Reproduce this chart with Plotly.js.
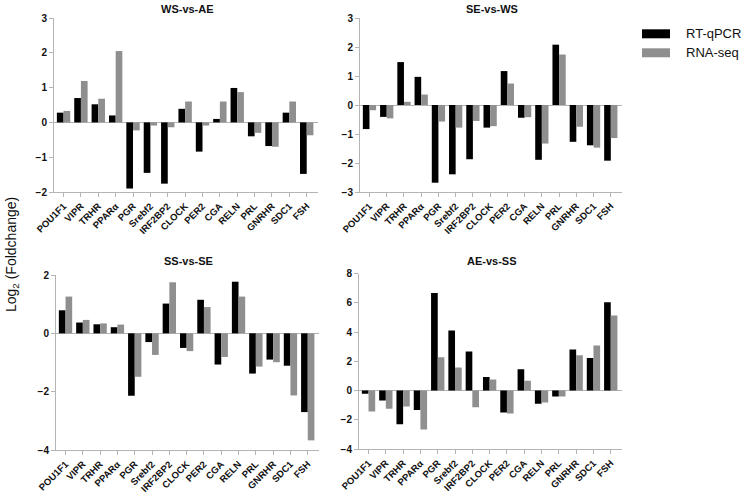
<!DOCTYPE html>
<html>
<head>
<meta charset="utf-8">
<script src="https://cdn.plot.ly/plotly-3.0.1.min.js"></script>
<style>
  html, body { margin: 0; padding: 0; background: #fff; }
  #chart { width: 756px; height: 494px; }
</style>
</head>
<body>
<div id="chart"></div>
<script>
// ---- data ----
const genes = ["POU1F1","VIPR","TRHR","PPARα","PGR","Srebf2","IRF2BP2","CLOCK","PER2","CGA","RELN","PRL","GNRHR","SDC1","FSH"];

const panelTitles = ["WS-vs-AE", "SE-vs-WS", "SS-vs-SE", "AE-vs-SS"];
const seriesNames = ["RT-qPCR", "RNA-seq"];

const wsAE_qpcr  = [0.28, 0.70, 0.52, 0.20, -1.90, -1.45, -1.76, 0.39, -0.84, 0.10, 0.99, -0.40, -0.68, 0.28, -1.48];
const wsAE_rna   = [0.33, 1.19, 0.68, 2.05, -0.23, -0.09, -0.14, 0.60, -0.09, 0.60, 0.87, -0.30, -0.70, 0.60, -0.37];

const seWS_qpcr  = [-0.83, -0.41, 1.48, 0.97, -2.68, -2.39, -1.87, -0.78, 1.17, -0.44, -1.89, 2.08, -1.27, -1.39, -1.92];
const seWS_rna   = [-0.18, -0.46, 0.11, 0.36, -0.57, -0.78, -0.55, -0.73, 0.74, -0.42, -1.33, 1.74, -0.75, -1.47, -1.14];

const ssSE_qpcr  = [0.79, 0.37, 0.31, 0.21, -2.14, -0.30, 1.02, -0.50, 1.15, -1.07, 1.77, -1.38, -0.90, -1.11, -2.70];
const ssSE_rna   = [1.26, 0.46, 0.34, 0.30, -1.49, -0.74, 1.75, -0.61, 0.90, -0.81, 1.26, -1.14, -0.99, -2.13, -3.67];

const aeSS_qpcr  = [-0.23, -0.68, -2.30, -1.34, 6.67, 4.10, 2.67, 0.93, -1.50, 1.46, -0.91, -0.41, 2.80, 2.23, 6.04];
const aeSS_rna   = [-1.43, -1.25, -1.09, -2.67, 2.28, 1.57, -1.14, 0.75, -1.57, 0.66, -0.82, -0.41, 2.41, 3.07, 5.13];

const yRanges = [[-2, 3], [-3, 3], [-4, 2], [-4, 8]];
const yDticks = [1, 1, 2, 2];

// ---- layout helpers ----
const W = 756, H = 494;
const px = v => v / W;
const py = v => 1 - v / H;

// pixel boxes [left, right, top, bottom]
const boxes = [
  [54, 318, 18, 192],
  [360, 622, 18, 192],
  [56, 319, 275, 450],
  [359, 622, 273.5, 449]
];

const black = "#000000";
const grey = "#8f8f8f";
const axisCol = "#b4b4b4";
const fontFam = "Liberation Sans, Arial, sans-serif";

const pairs = [[wsAE_qpcr, wsAE_rna],[seWS_qpcr, seWS_rna],[ssSE_qpcr, ssSE_rna],[aeSS_qpcr, aeSS_rna]];

const traces = [];
pairs.forEach((p, i) => {
  const xa = i === 0 ? "x" : "x" + (i + 1);
  const ya = i === 0 ? "y" : "y" + (i + 1);
  traces.push({
    type: "bar", x: genes, y: p[0], name: seriesNames[0], xaxis: xa, yaxis: ya,
    marker: {color: black, line: {width: 0}}, showlegend: false, hoverinfo: "x+y"
  });
  traces.push({
    type: "bar", x: genes, y: p[1], name: seriesNames[1], xaxis: xa, yaxis: ya,
    marker: {color: grey, line: {width: 0}}, showlegend: false, hoverinfo: "x+y"
  });
});

const layout = {
  width: W, height: H,
  margin: {l: 0, r: 0, t: 0, b: 0},
  paper_bgcolor: "#fff", plot_bgcolor: "rgba(0,0,0,0)",
  barmode: "group", bargap: 0.23, bargroupgap: 0,
  font: {family: fontFam, color: "#000"},
  annotations: [], shapes: []
};

boxes.forEach((b, i) => {
  const sx = i === 0 ? "" : String(i + 1);
  layout["xaxis" + sx] = {
    domain: [px(b[0]), px(b[1])],
    anchor: "y" + sx,
    type: "category",
    range: [-0.55, 14.65],
    showline: true, linecolor: axisCol, linewidth: 1,
    ticks: "outside", ticklen: 4, tickcolor: axisCol, tickwidth: 1,
    tickangle: -45,
    tickfont: {family: fontFam, size: 9.5, weight: 700, color: "#111"},
    showgrid: false, zeroline: false, fixedrange: true
  };
  layout["yaxis" + sx] = {
    domain: [py(b[3]), py(b[2])],
    anchor: "x" + sx,
    range: yRanges[i], dtick: yDticks[i], tick0: 0,
    showline: true, linecolor: axisCol, linewidth: 1,
    ticks: "outside", ticklen: 4, tickcolor: axisCol, tickwidth: 1,
    tickfont: {family: fontFam, size: 10, weight: 700, color: "#111"},
    showgrid: false,
    zeroline: true, zerolinecolor: axisCol, zerolinewidth: 1,
    fixedrange: true
  };
  layout.annotations.push({
    text: "<b>" + panelTitles[i] + "</b>",
    xref: "paper", yref: "paper",
    x: px((b[0] + b[1]) / 2 + 1), y: py(i < 2 ? 9 : 261),
    xanchor: "center", yanchor: "middle", showarrow: false,
    font: {family: fontFam, size: 11, color: "#111"}
  });
});

// y title
layout.annotations.push({
  text: "Log<sub>2</sub> (Foldchange)",
  xref: "paper", yref: "paper", x: px(12), y: py(255),
  xanchor: "center", yanchor: "middle", textangle: -90, showarrow: false,
  font: {family: fontFam, size: 14, color: "#111"}
});

// legend (swatches + labels)
const legendItems = [[seriesNames[0], black, 29.3, 38.3], [seriesNames[1], grey, 48.3, 57.3]];
legendItems.forEach(it => {
  layout.shapes.push({
    type: "rect", xref: "paper", yref: "paper",
    x0: px(642), x1: px(670), y0: py(it[3]), y1: py(it[2]),
    fillcolor: it[1], line: {width: 0}
  });
  layout.annotations.push({
    text: it[0], xref: "paper", yref: "paper",
    x: px(684), y: py((it[2] + it[3]) / 2),
    xanchor: "left", yanchor: "middle", showarrow: false,
    font: {family: fontFam, size: 13, color: "#111"}
  });
});

Plotly.newPlot("chart", traces, layout, {displayModeBar: false, staticPlot: true});
</script>
</body>
</html>
